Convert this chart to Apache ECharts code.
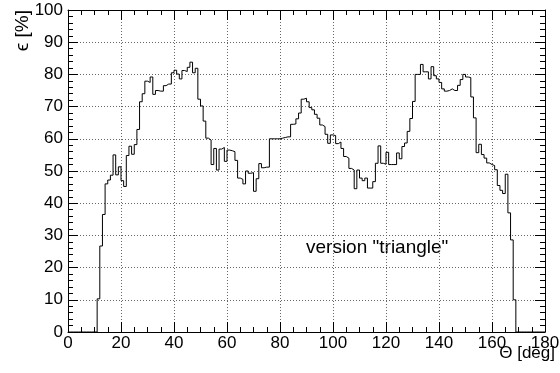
<!DOCTYPE html>
<html>
<head>
<meta charset="utf-8">
<title>Efficiency vs polar angle</title>
<script src="https://cdn.jsdelivr.net/npm/echarts@6/dist/echarts.min.js"></script>
<style>
  html, body { margin: 0; padding: 0; background: #fff; }
  #chart { width: 560px; height: 373px; }
</style>
</head>
<body>
<div id="chart"></div>
<script>
// Efficiency histogram, 1-degree bins from 0 to 180 deg (value = bin content in %)
const binWidth = 1;
const efficiency = [
  0, 0, 0, 0, 0, 0, 0, 0, 0, 0,                                  // 0-9
  0, 10.3, 26.7, 36.5, 46, 47.2, 48.7, 55, 48.8, 51.3,           // 10-19
  47, 45.2, 54.8, 57.7, 55.2, 58.2, 62.9, 71.5, 74, 77.9,        // 20-29
  77.5, 79.2, 73.8, 75, 74.8, 74.8, 76.5, 77, 77, 80.5,          // 30-39
  81.3, 80.1, 78.6, 81.2, 80.9, 82.2, 83.8, 80.5, 81.9, 72.3,    // 40-49
  70.2, 65.5, 60.2, 59.6, 52, 57, 50.3, 56.8, 57.3, 53,          // 50-59
  56.5, 56.3, 56, 53.3, 47.8, 47.4, 46, 50, 49.3, 49.5,          // 60-69
  43.7, 47.6, 52.3, 51, 51.2, 51.2, 60, 60, 60, 60,              // 70-79
  60.2, 60.4, 60.6, 60.6, 64.5, 64.6, 66.2, 68, 72.3, 72.6,      // 80-89
  71.5, 69.7, 69, 67.6, 66.4, 64.3, 63.8, 61.4, 58.6, 61.2,      // 90-99
  61, 58.5, 59, 57, 54.5, 54, 50.8, 50.3, 44.5, 50.3,            // 100-109
  47.8, 47, 47.8, 44.7, 44.7, 46.7, 52.4, 57.8, 52.4, 52.1,      // 110-119
  55.8, 52, 52, 52, 55.6, 53.8, 57.6, 58.7, 62.3, 66.3,          // 120-129
  71.6, 80, 80, 83.1, 80.8, 80.8, 78.6, 82.4, 79.6, 78.6,        // 130-139
  77.5, 75.5, 74.8, 75, 75.5, 75, 75, 76.6, 78.4, 80,            // 140-149
  79.2, 79, 73, 66.5, 55.7, 58.3, 55.1, 54, 52.5, 52,            // 150-159
  51.7, 50.4, 45.5, 44, 43, 49, 37, 28.6, 10, 0,                 // 160-169
  0, 0, 0, 0, 0, 0, 0, 0, 0, 0                                   // 170-179
];

const xTitle = 'Θ [deg]';
const yTitle = 'ϵ [%]';
const noteText = 'version "triangle"';

// Each bin's lower edge; a closing point at the last upper edge finishes the outline
const points = efficiency.map((v, i) => [i * binWidth, v]);
points.push([efficiency.length * binWidth, efficiency[efficiency.length - 1]]);

const FONT = 'Liberation Sans, Arial, Helvetica, sans-serif';
const gridDots = { color: '#666', width: 1, type: [1, 2] };

function frameAxis(extra) {
  return Object.assign({
    axisLine: { show: true, onZero: false, lineStyle: { color: '#000', width: 1 } },
    axisTick: { show: true, inside: true, length: 10, lineStyle: { color: '#000', width: 1 } },
    minorTick: { show: true, length: 5, lineStyle: { color: '#000', width: 1 } },
    splitLine: { show: false },
    axisLabel: { show: false }
  }, extra);
}

const chart = echarts.init(document.getElementById('chart'), null, { renderer: 'canvas' });
chart.setOption({
  animation: false,
  backgroundColor: '#fff',
  grid: { left: 68, right: 15, top: 10, bottom: 41, containLabel: false, outerBoundsMode: 'none' },
  xAxis: [
    frameAxis({
      type: 'value', position: 'bottom', min: 0, max: 180, interval: 20,
      minorTick: { show: true, splitNumber: 4, length: 5, lineStyle: { color: '#000' } },
      splitLine: { show: true, lineStyle: gridDots },
      axisLabel: { show: true, color: '#000', fontFamily: FONT, fontSize: 17, margin: 3 }
    }),
    frameAxis({
      type: 'value', position: 'top', min: 0, max: 180, interval: 20,
      minorTick: { show: true, splitNumber: 4, length: 5, lineStyle: { color: '#000' } }
    })
  ],
  yAxis: [
    frameAxis({
      type: 'value', position: 'left', min: 0, max: 100, interval: 10,
      minorTick: { show: true, splitNumber: 5, length: 5, lineStyle: { color: '#000' } },
      splitLine: { show: true, lineStyle: gridDots },
      axisLabel: { show: true, color: '#000', fontFamily: FONT, fontSize: 17, margin: 5 }
    }),
    frameAxis({
      type: 'value', position: 'right', min: 0, max: 100, interval: 10,
      minorTick: { show: true, splitNumber: 5, length: 5, lineStyle: { color: '#000' } }
    })
  ],
  graphic: [
    {
      // y axis title, reading upward, top-aligned with the frame
      type: 'text', x: 23, y: 10, rotation: Math.PI / 2,
      style: { text: yTitle, fill: '#000', font: '19px ' + FONT, align: 'right', verticalAlign: 'middle' }
    },
    {
      // x axis title, right-aligned under the end of the axis
      type: 'text', x: 555, y: 345,
      style: { text: xTitle, fill: '#000', font: '17px ' + FONT, align: 'right', verticalAlign: 'top' }
    },
    {
      type: 'text', x: 306, y: 248,
      style: { text: noteText, fill: '#000', font: '19px ' + FONT, align: 'left', verticalAlign: 'middle' }
    }
  ],
  series: [{
    type: 'line',
    xAxisIndex: 0, yAxisIndex: 0,
    step: 'end',
    data: points,
    showSymbol: false,
    clip: true,
    lineStyle: { color: '#000', width: 1 }
  }]
});
</script>
</body>
</html>
